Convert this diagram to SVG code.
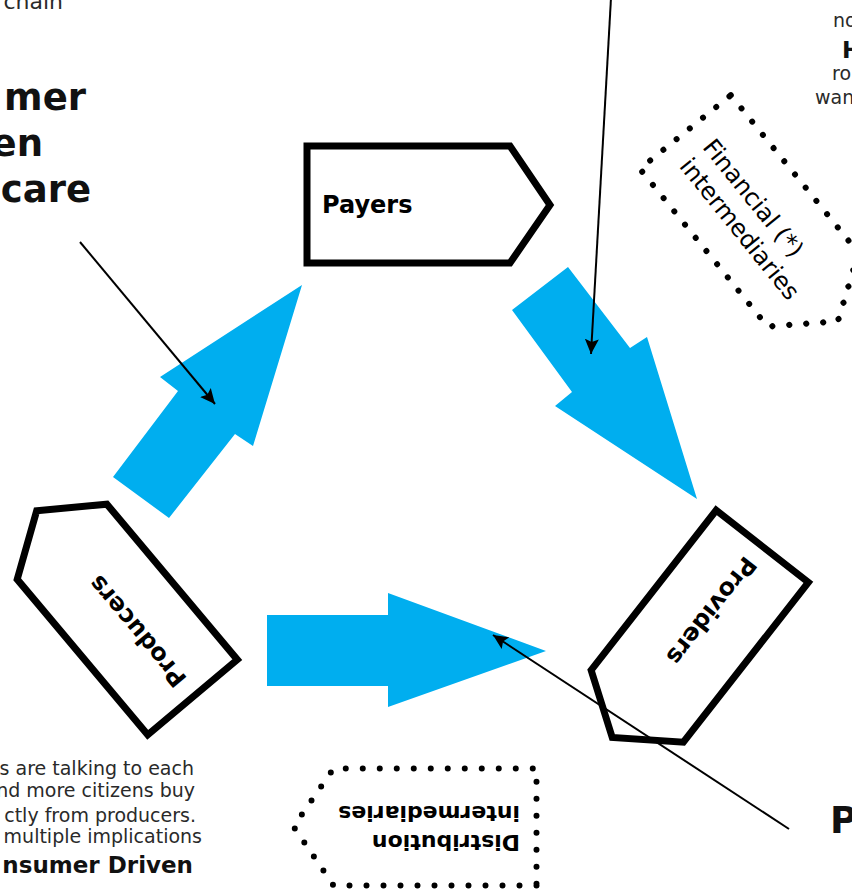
<svg xmlns="http://www.w3.org/2000/svg" width="852" height="892" viewBox="0 0 852 892">
<style>
.bg{fill:#ffffff}
.tag{fill:#ffffff;stroke:#000;stroke-width:7;stroke-linejoin:miter}
.dot{fill:none;stroke:#000;stroke-width:6;stroke-linecap:round;stroke-dasharray:0 17}
.flow{fill:#00AEEF;stroke:none}
.lbl{font-family:"DejaVu Sans",Verdana,sans-serif;font-weight:bold;font-size:24px;fill:#000}
.lblr{font-family:"DejaVu Sans",Verdana,sans-serif;font-size:24px;fill:#000}
.lblb{font-family:"DejaVu Sans",Verdana,sans-serif;font-weight:bold;font-size:22px;fill:#000}
.body{font-family:"DejaVu Sans",Verdana,sans-serif;font-size:19px;fill:#2a2a2a}
.big{font-family:"DejaVu Sans",Verdana,sans-serif;font-weight:bold;font-size:37px;fill:#111}
.mid{font-family:"DejaVu Sans",Verdana,sans-serif;font-weight:bold;font-size:23px;fill:#111}
.ptr{fill:none;stroke:#000;stroke-width:2;marker-end:url(#ah)}
</style>
<defs>
<marker id="ah" markerUnits="userSpaceOnUse" markerWidth="16" markerHeight="14" viewBox="0 0 16 14" refX="15" refY="7" orient="auto">
<path d="M0,0 L15,7 L0,14 L3,7 Z" fill="#000"/>
</marker>
<path id="tagshape" d="M-101.5,-58.5 H101.5 L141.5,0.5 L101.5,58.5 H-101.5 Z"/>
</defs>
<rect class="bg" x="0" y="0" width="852" height="892"/>

<g id="flows">
<polygon class="flow" points="302,285 253,446 235,434 169,518 113,477 178,391 160,377"/>
<polygon class="flow" points="568,267 630,348 647,337 697,499 555,406 572,392 512,310"/>
<polygon class="flow" points="267,615 388,615 388,593 546,651 388,707 388,686 267,686"/>
</g>

<g id="payers" transform="translate(408.5,204.5)">
<use href="#tagshape" class="tag"/>
<text class="lbl" x="-86.5" y="8.5">Payers</text>
</g>

<g id="providers" transform="translate(699.75,626.25) rotate(128)">
<use href="#tagshape" class="tag"/>
<text class="lbl" x="-84" y="8.5">Providers</text>
</g>

<g id="producers" transform="translate(127.25,619.5) rotate(-130)">
<use href="#tagshape" class="tag"/>
<text class="lbl" x="-84" y="8.5">Producers</text>
</g>

<g id="financial" transform="translate(749.2,210.9) rotate(51)">
<use href="#tagshape" class="dot"/>
<text class="lblr" x="-79" y="-3">Financial (*)</text>
<text class="lblr" x="-79" y="27">intermediaries</text>
</g>

<g id="distribution" transform="translate(435,827) rotate(180)">
<use href="#tagshape" class="dot"/>
<text class="lblb" x="-85" y="-8">Distribution</text>
<text class="lblb" x="-85" y="21">intermediaries</text>
</g>

<g id="connectors">
<line class="ptr" x1="80" y1="242" x2="215" y2="404"/>
<line class="ptr" x1="611" y1="-2" x2="591" y2="354"/>
<line class="ptr" x1="789" y1="829" x2="493" y2="635"/>
</g>

<g id="texts">
<text class="body" x="63" y="9" text-anchor="end" style="font-size:22px">chain</text>
<text class="big" x="86" y="110" text-anchor="end">mer</text>
<text class="big" x="43" y="156" text-anchor="end">en</text>
<text class="big" x="91" y="202" text-anchor="end">care</text>
<text class="body" x="833" y="27">no</text>
<text class="mid" x="842" y="58">H</text>
<text class="body" x="832" y="80">ro</text>
<text class="body" x="815" y="104">wan</text>
<text class="body" x="194" y="775" text-anchor="end">s are talking to each</text>
<text class="body" x="195" y="797" text-anchor="end">nd more citizens buy</text>
<text class="body" x="196" y="822" text-anchor="end">ctly from producers.</text>
<text class="body" x="202" y="843" text-anchor="end">multiple implications</text>
<text class="mid" x="193" y="873" text-anchor="end">nsumer Driven</text>
<text class="big" x="830" y="833">P</text>
</g>
</svg>
